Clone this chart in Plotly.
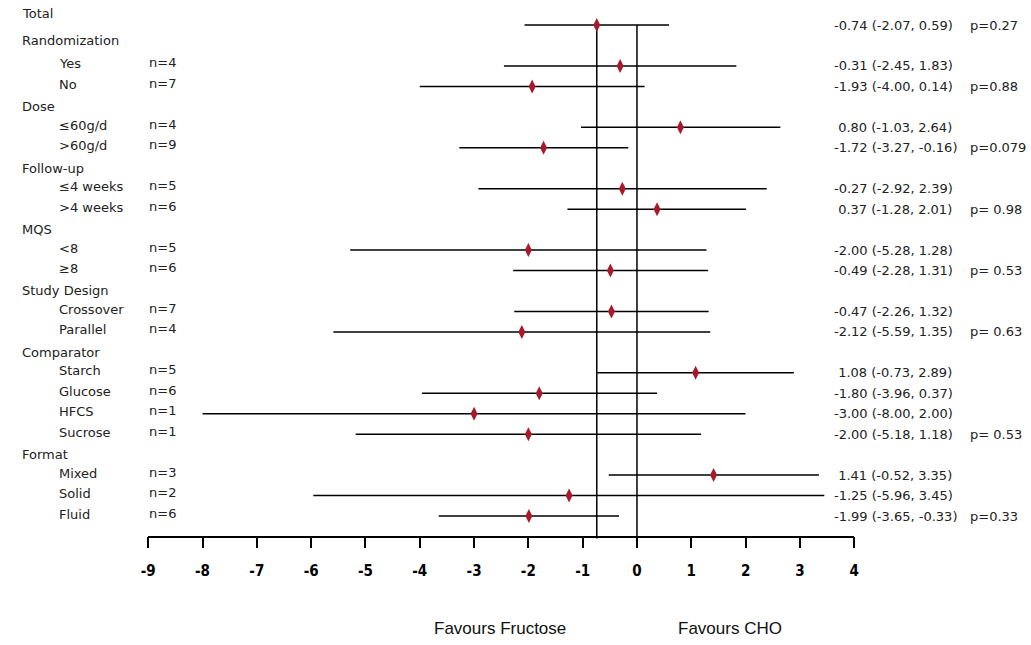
import plotly.graph_objects as go

# ---------------- data ----------------
ROW_LABELS = ["Total", "Randomization", "Yes", "No", "Dose", "≤60g/d", "&gt;60g/d",
              "Follow-up", "≤4 weeks", "&gt;4 weeks", "MQS", "&lt;8", "≥8",
              "Study Design", "Crossover", "Parallel", "Comparator", "Starch",
              "Glucose", "HFCS", "Sucrose", "Format", "Mixed", "Solid", "Fluid"]
ROW_IS_HEADER = [True, True, False, False, True, False, False,
                 True, False, False, True, False, False,
                 True, False, False, True, False,
                 False, False, False, True, False, False, False]
N_LABELS = ["", "", "n=4", "n=7", "", "n=4", "n=9",
            "", "n=5", "n=6", "", "n=5", "n=6",
            "", "n=7", "n=4", "", "n=5",
            "n=6", "n=1", "n=1", "", "n=3", "n=2", "n=6"]
ESTIMATE = [-0.74, None, -0.31, -1.93, None, 0.80, -1.72,
            None, -0.27, 0.37, None, -2.00, -0.49,
            None, -0.47, -2.12, None, 1.08,
            -1.80, -3.00, -2.00, None, 1.41, -1.25, -1.99]
CI_LOW = [-2.07, None, -2.45, -4.00, None, -1.03, -3.27,
          None, -2.92, -1.28, None, -5.28, -2.28,
          None, -2.26, -5.59, None, -0.73,
          -3.96, -8.00, -5.18, None, -0.52, -5.96, -3.65]
CI_HIGH = [0.59, None, 1.83, 0.14, None, 2.64, -0.16,
           None, 2.39, 2.01, None, 1.28, 1.31,
           None, 1.32, 1.35, None, 2.89,
           0.37, 2.00, 1.18, None, 3.35, 3.45, -0.33]
P_LABELS = ["p=0.27", "", "", "p=0.88", "", "", "p=0.079",
            "", "", "p= 0.98", "", "", "p= 0.53",
            "", "", "p= 0.63", "", "",
            "", "", "p= 0.53", "", "", "", "p=0.33"]
POOLED = -0.74
TICK_VALUES = list(range(-9, 5))
TICK_TEXT = [str(v) for v in TICK_VALUES]
X_LABEL_LEFT = "Favours Fructose"
X_LABEL_RIGHT = "Favours CHO"

# ---------------- layout constants ----------------
W, H = 1031, 645
ROW0_PX, ROW_STEP = 25.0, 20.46
Y_TOP = -ROW0_PX / ROW_STEP
Y_BOT = Y_TOP + H / ROW_STEP
AXIS_ROW = len(ROW_LABELS)          # axis line one row below the last row
AXIS_PX = ROW0_PX + ROW_STEP * AXIS_ROW
X0_PX, X_STEP = 637.0, 55.0         # pixel of value 0, px per unit

TEXT_FONT = dict(family="DejaVu Sans", size=13, color="#222222")
RED = "#a8192b"

rows = list(range(len(ROW_LABELS)))
idx = [i for i in rows if ESTIMATE[i] is not None]
est = [ESTIMATE[i] for i in idx]
lo = [CI_LOW[i] for i in idx]
hi = [CI_HIGH[i] for i in idx]

fig = go.Figure()
fig.add_trace(go.Scatter(
    x=est, y=idx, mode="markers",
    marker=dict(symbol="diamond-tall", size=10, color=RED, line=dict(width=0)),
    error_x=dict(type="data", symmetric=False,
                 array=[h - e for h, e in zip(hi, est)],
                 arrayminus=[e - l for e, l in zip(est, lo)],
                 width=0, thickness=1.5, color="black"),
    showlegend=False, hoverinfo="skip", cliponaxis=False,
))

shapes = [
    dict(type="line", xref="x", yref="y", x0=0, x1=0, y0=0, y1=AXIS_ROW,
         line=dict(color="black", width=1.5), layer="below"),
    dict(type="line", xref="x", yref="y", x0=POOLED, x1=POOLED, y0=0, y1=AXIS_ROW + 0.1,
         line=dict(color="black", width=1.5), layer="below"),
]

ann = []
def px(x):
    return x / W

for i in rows:
    if ROW_IS_HEADER[i]:
        shift = 12 if i == 0 else (5 if i == 1 else 0)
        ann.append(dict(x=px(12), y=i, xref="paper", yref="y", text=ROW_LABELS[i],
                        xanchor="left", yanchor="middle", showarrow=False,
                        font=TEXT_FONT, yshift=shift))
    else:
        ann.append(dict(x=px(50), y=i, xref="paper", yref="y", text=ROW_LABELS[i],
                        xanchor="left", yanchor="middle", showarrow=False,
                        font=TEXT_FONT, yshift=2))
    if N_LABELS[i]:
        ann.append(dict(x=px(141), y=i, xref="paper", yref="y", text=N_LABELS[i],
                        xanchor="left", yanchor="middle", showarrow=False,
                        font=TEXT_FONT, yshift=3))
    if ESTIMATE[i] is not None:
        e, l, h = ESTIMATE[i], CI_LOW[i], CI_HIGH[i]
        s = f"{e:.2f} ({l:.2f}, {h:.2f})"
        if e >= 0:
            s = "\u00a0" + s
        ann.append(dict(x=px(835), y=i, xref="paper", yref="y", text=s,
                        xanchor="left", yanchor="middle", showarrow=False,
                        font=TEXT_FONT))
    if P_LABELS[i]:
        ann.append(dict(x=px(972), y=i, xref="paper", yref="y",
                        text=P_LABELS[i].replace(" ", "\u00a0"),
                        xanchor="left", yanchor="middle", showarrow=False,
                        font=TEXT_FONT))

label_font = dict(family="Liberation Sans, Arial", size=17, color="#111111")
ann.append(dict(x=px(498), y=1 - 628 / H, xref="paper", yref="paper", text=X_LABEL_LEFT,
                xanchor="center", yanchor="middle", showarrow=False, font=label_font))
ann.append(dict(x=px(731), y=1 - 628 / H, xref="paper", yref="paper", text=X_LABEL_RIGHT,
                xanchor="center", yanchor="middle", showarrow=False, font=label_font))

x_min_px = X0_PX + X_STEP * TICK_VALUES[0]
x_max_px = X0_PX + X_STEP * TICK_VALUES[-1]

fig.update_layout(
    width=W, height=H,
    margin=dict(l=0, r=0, t=0, b=0),
    paper_bgcolor="white", plot_bgcolor="white",
    xaxis=dict(
        domain=[x_min_px / W, x_max_px / W],
        range=[TICK_VALUES[0], TICK_VALUES[-1]],
        anchor="free", position=1 - AXIS_PX / H,
        showgrid=False, zeroline=False,
        showline=True, linecolor="black", linewidth=1.5,
        ticks="outside", ticklen=11, tickwidth=1.5, tickcolor="black",
        tickvals=TICK_VALUES, ticktext=TICK_TEXT,
        tickfont=dict(family="Liberation Sans Narrow, DejaVu Sans Condensed", size=15,
                      color="black", weight="bold"),
        ticklabelstandoff=10,
    ),
    yaxis=dict(
        domain=[0, 1], range=[Y_BOT, Y_TOP],
        showgrid=False, zeroline=False, showline=False,
        showticklabels=False, ticks="",
    ),
    shapes=shapes,
    annotations=ann,
)

fig.write_html("out.html")
